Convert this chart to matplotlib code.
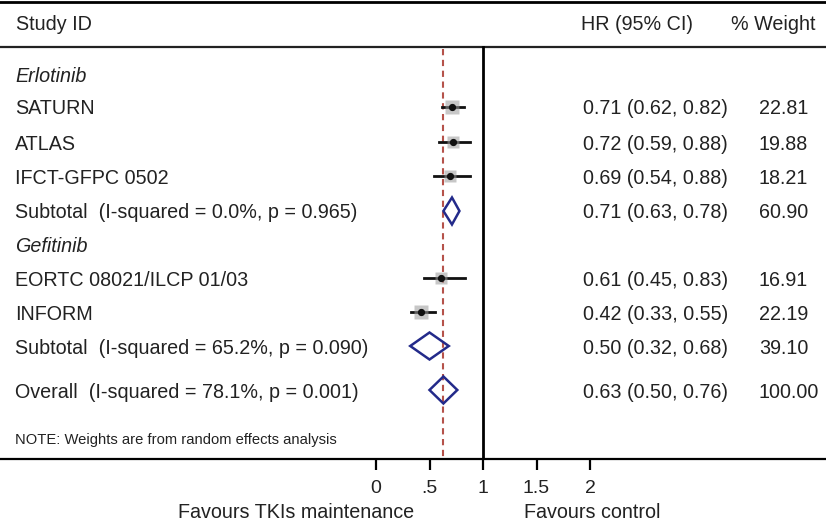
import matplotlib
matplotlib.use("Agg")
import matplotlib.pyplot as plt
from matplotlib.transforms import blended_transform_factory
import numpy as np

# ---------------- data ----------------
labels = ["Erlotinib", "SATURN", "ATLAS", "IFCT-GFPC 0502",
          "Subtotal  (I-squared = 0.0%, p = 0.965)",
          "Gefitinib", "EORTC 08021/ILCP 01/03", "INFORM",
          "Subtotal  (I-squared = 65.2%, p = 0.090)",
          "Overall  (I-squared = 78.1%, p = 0.001)"]
kinds = ["group", "study", "study", "study", "sub",
         "group", "study", "study", "sub", "sub"]
hr = [None, 0.71, 0.72, 0.69, 0.71, None, 0.61, 0.42, 0.50, 0.63]
lo = [None, 0.62, 0.59, 0.54, 0.63, None, 0.45, 0.33, 0.32, 0.50]
hi = [None, 0.82, 0.88, 0.88, 0.78, None, 0.83, 0.55, 0.68, 0.76]
weights = [None, 22.81, 19.88, 18.21, 60.90, None, 16.91, 22.19, 39.10, 100.00]
overall_hr = 0.63
tick_vals = [0, 0.5, 1, 1.5, 2]
tick_labels = ["0", ".5", "1", "1.5", "2"]

# ---------------- layout ----------------
W, H = 826, 524
row_y = [74, 107, 142, 176, 211, 245, 278, 312, 346, 390]
text_dy = 2
x0_px, unit_px = 376.0, 107.0     # pixel of HR=0, pixels per HR unit
axis_y, top_y, header_line_y = 459, 2, 47

plt.rcParams['font.family'] = ['Liberation Sans', 'DejaVu Sans']
fig = plt.figure(figsize=(W / 100, H / 100), dpi=100)
ax = fig.add_axes([0, (H - axis_y) / H, 1, (axis_y - top_y) / H])
ax.set_xlim(-x0_px / unit_px, (W - x0_px) / unit_px)
ax.set_ylim(axis_y, top_y)
for s in ["left", "right"]:
    ax.spines[s].set_visible(False)
ax.spines["bottom"].set_linewidth(1.6)
ax.spines["top"].set_linewidth(2.0)
ax.set_yticks([])
ax.set_xticks(tick_vals)
ax.set_xticklabels(tick_labels, fontsize=14, color="#222222")
ax.tick_params(axis="x", direction="out", length=8, width=1.6, pad=7)

fs = 14.2
txt_color = "#222222"
tr = blended_transform_factory(fig.transFigure, ax.transData)

def px(x):
    return x / W

# header
ax.text(px(16), 24, "Study ID", transform=tr, fontsize=fs, va="center", ha="left", color=txt_color)
ax.text(px(581), 24, "HR (95% CI)", transform=tr, fontsize=fs, va="center", ha="left", color=txt_color)
ax.text(px(731), 24, "% Weight", transform=tr, fontsize=fs, va="center", ha="left", color=txt_color)
ax.axhline(header_line_y, color="#222222", lw=1.6)

# reference lines
ax.plot([1, 1], [header_line_y, axis_y], color="black", lw=2.0, zorder=2)
ax.plot([overall_hr, overall_hr], [header_line_y + 2, axis_y], color="#b5524a",
        lw=1.5, ls=(0, (3, 2.2)), zorder=1)

navy = "#232a8a"
for i, lab in enumerate(labels):
    y = row_y[i]
    ty = y + text_dy
    style = "italic" if kinds[i] == "group" else "normal"
    ax.text(px(15), ty, lab, transform=tr, fontsize=fs, va="center", ha="left",
            style=style, color=txt_color)
    if hr[i] is None:
        continue
    ax.text(px(583), ty, f"{hr[i]:.2f} ({lo[i]:.2f}, {hi[i]:.2f})", transform=tr,
            fontsize=fs, va="center", ha="left", color=txt_color)
    ax.text(px(759), ty, f"{weights[i]:.2f}", transform=tr, fontsize=fs,
            va="center", ha="left", color=txt_color)
    if kinds[i] == "study":
        ax.plot([lo[i], hi[i]], [y, y], color="#111111", lw=2.0, zorder=3)
        ax.plot(hr[i], y, marker="s", ms=np.sqrt(weights[i]) * 2.0,
                mfc="#9a9a9a", mec="none", alpha=0.55, zorder=3)
        ax.plot(hr[i], y, marker="o", ms=4.2, color="#111111", zorder=4)
    else:
        hh = 13.5
        ax.fill([lo[i], hr[i], hi[i], hr[i], lo[i]],
                [y, y - hh, y, y + hh, y], fill=False, ec=navy, lw=1.8, zorder=3)

ax.text(px(15), 440, "NOTE: Weights are from random effects analysis", transform=tr,
        fontsize=10.6, va="center", ha="left", color=txt_color)

fig.text(px(296), 1 - 513 / H, "Favours TKIs maintenance", fontsize=fs,
         ha="center", va="center", color=txt_color)
fig.text(px(592), 1 - 513 / H, "Favours control", fontsize=fs,
         ha="center", va="center", color=txt_color)

fig.savefig("out.png", dpi=100)
